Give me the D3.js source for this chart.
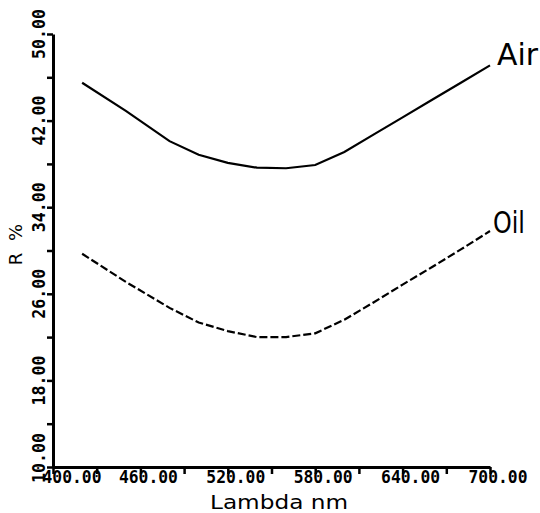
<!DOCTYPE html>
<html>
<head>
<meta charset="utf-8">
<script src="https://cdn.jsdelivr.net/npm/d3@7"></script>
<style>
  body { margin: 0; background: #fff; }
  .tick-lbl { font-family: "DejaVu Sans Mono", monospace; font-weight: bold; font-size: 17px; fill: #000; }
  .title { font-family: "DejaVu Sans", sans-serif; fill: #000; }
</style>
</head>
<body>
<div id="chart"></div>
<script>
// wavelength (nm)
const lambda = [420, 450, 480, 500, 520, 540, 560, 580, 600, 620, 640, 660, 680, 700];
// reflectance R % in air
const airR = [45.5, 42.9, 40.1, 38.85, 38.1, 37.65, 37.6, 37.9, 39.1, 40.7, 42.3, 43.9, 45.5, 47.1];
// reflectance R % in oil
const oilR = [29.7, 27.1, 24.7, 23.35, 22.55, 22.0, 22.0, 22.35, 23.6, 25.2, 26.85, 28.45, 30.1, 31.8];

const xTicks = [400, 430, 460, 490, 520, 550, 580, 610, 640, 670, 700];
const xLabels = [400, 460, 520, 580, 640, 700];
const yTicks = [10, 14, 18, 22, 26, 30, 34, 38, 42, 46, 50];
const yLabels = [10, 18, 26, 34, 42, 50];

const width = 540, height = 513;

const svg = d3.select('#chart').append('svg')
    .attr('width', width)
    .attr('height', height);

const x = d3.scaleLinear().domain([400, 700]).range([53, 490]);
const y = d3.scaleLinear().domain([10, 50]).range([467, 34]);

// x axis
const xAxis = svg.append('g')
    .attr('transform', `translate(0,${y(10)})`)
    .call(d3.axisBottom(x).tickValues(xTicks).tickSize(7).tickSizeOuter(0).tickFormat(''));
xAxis.select('.domain').attr('stroke-width', 3);
xAxis.selectAll('.tick line').attr('stroke-width', 2.5);

svg.append('g').selectAll('text')
    .data(xLabels)
    .enter()
    .append('text')
    .attr('class', 'tick-lbl')
    .attr('x', d => x(d) + (d === 400 ? 19 : 8))
    .attr('y', 483)
    .attr('text-anchor', 'middle')
    .attr('textLength', 59)
    .attr('lengthAdjust', 'spacingAndGlyphs')
    .text(d => d.toFixed(2));

// y axis
const yAxis = svg.append('g')
    .attr('transform', `translate(${x(400)},0)`)
    .call(d3.axisLeft(y).tickValues(yTicks).tickSize(6).tickSizeOuter(0).tickFormat(''));
yAxis.select('.domain').attr('stroke-width', 3);
yAxis.selectAll('.tick line').attr('stroke-width', 2.5);

svg.append('g').selectAll('text')
    .data(yLabels)
    .enter()
    .append('text')
    .attr('class', 'tick-lbl')
    .attr('transform', d => `translate(45,${y(d) - (d === 10 ? 9 : 0)}) rotate(-90)`)
    .attr('text-anchor', 'middle')
    .attr('textLength', 50)
    .attr('lengthAdjust', 'spacingAndGlyphs')
    .text(d => d.toFixed(2));

// axis titles
svg.append('text')
    .attr('class', 'title')
    .attr('x', 279)
    .attr('y', 509)
    .attr('text-anchor', 'middle')
    .attr('textLength', 138)
    .attr('lengthAdjust', 'spacingAndGlyphs')
    .style('font-size', '20px')
    .text('Lambda nm');

svg.append('text')
    .attr('class', 'title')
    .attr('transform', 'translate(22,243) rotate(-90)')
    .attr('text-anchor', 'middle')
    .style('font-size', '18px')
    .style('letter-spacing', '3px')
    .text('R %');

// curves
const line = d3.line()
    .x(d => x(d[0]))
    .y(d => y(d[1]));

svg.append('path')
    .datum(lambda.map((l, i) => [l, airR[i]]))
    .attr('d', line)
    .attr('fill', 'none')
    .attr('stroke', '#000')
    .attr('stroke-width', 2.2);

svg.append('path')
    .datum(lambda.map((l, i) => [l, oilR[i]]))
    .attr('d', line)
    .attr('fill', 'none')
    .attr('stroke', '#000')
    .attr('stroke-width', 2.2)
    .attr('stroke-dasharray', '8,3');

// curve labels
svg.append('text')
    .attr('class', 'title')
    .attr('x', 497)
    .attr('y', 65)
    .attr('textLength', 41)
    .attr('lengthAdjust', 'spacingAndGlyphs')
    .style('font-size', '30px')
    .text('Air');

svg.append('text')
    .attr('class', 'title')
    .attr('x', 493)
    .attr('y', 233)
    .attr('textLength', 32)
    .attr('lengthAdjust', 'spacingAndGlyphs')
    .style('font-size', '30px')
    .text('Oil');
</script>
</body>
</html>
